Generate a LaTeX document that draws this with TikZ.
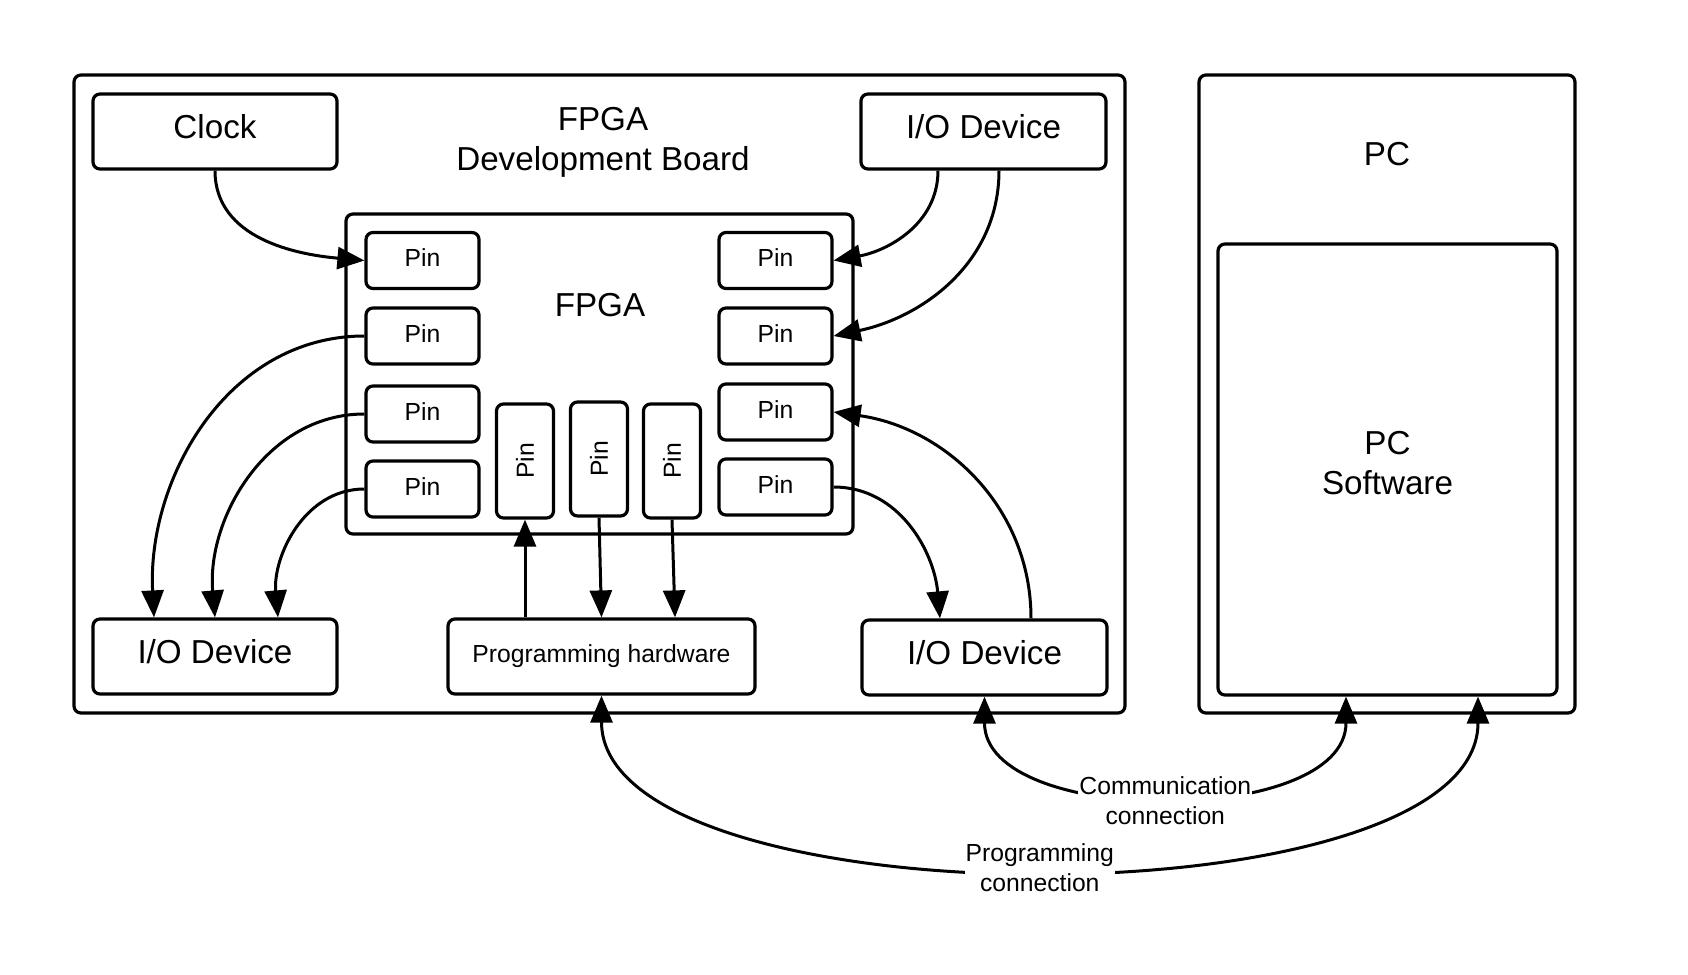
\documentclass[tikz,border=0pt]{standalone}
\usepackage{fontspec}
\setmainfont{Liberation Sans}
\usetikzlibrary{arrows.meta,calc}
\newcommand\fbig{\fontsize{16.6pt}{20pt}\selectfont}
\newcommand\fsmall{\fontsize{12.35pt}{15pt}\selectfont}
\begin{document}
\begin{tikzpicture}[x=0.5pt,y=0.5pt,
  box/.style={draw, line width=1.6pt, rounded corners=3.5pt, align=center, inner sep=0pt, font=\fbig},
  sbox/.style={box, text height=0.73em, text depth=0.04em},
  pinbox/.style={box, text height=0.73em, text depth=0.1em, font=\fsmall, minimum width=56.5pt, minimum height=28pt},
  vpin/.style={box, font=\fsmall, minimum width=28.5pt, minimum height=57pt},
  txt/.style={align=center, font=\fbig, inner sep=0pt},
  lbl/.style={align=center, font=\fsmall, fill=white, inner sep=0.5pt},
  conn/.style={line width=1.5pt, -{Triangle[length=13.5pt,width=11pt]}},
  bconn/.style={line width=1.5pt, {Triangle[length=13.5pt,width=11pt]}-{Triangle[length=13.5pt,width=11pt]}}
]
\useasboundingbox (0,0) rectangle (1688,-975);
% board
\node[box, minimum width=525.5pt, minimum height=319pt] (board) at (599.5,-394) {};
\node[txt] (title) at (603,-142) {FPGA\\Development Board};
\node[sbox, minimum width=122pt, minimum height=37.5pt] (clock) at (215,-131.5) {Clock};
\node[sbox, minimum width=122.5pt, minimum height=37.5pt] (io1) at (983.5,-131.5) {I/O Device};
% FPGA
\node[box, minimum width=253.5pt, minimum height=160pt] (fpga) at (599.5,-374) {};
\node[txt] (fpgatext) at (600,-305) {FPGA};
\node[pinbox] (pl1) at (422.5,-260.5) {Pin};
\node[pinbox] (pl2) at (422.5,-336) {Pin};
\node[pinbox] (pl3) at (422.5,-414) {Pin};
\node[pinbox] (pl4) at (422.5,-489) {Pin};
\node[pinbox] (pr1) at (775.5,-260.5) {Pin};
\node[pinbox] (pr2) at (775.5,-336) {Pin};
\node[pinbox] (pr3) at (775.5,-412) {Pin};
\node[pinbox] (pr4) at (775.5,-487) {Pin};
\node[vpin] (pv1) at (525,-461) {\rotatebox{90}{Pin}};
\node[vpin] (pv2) at (599,-459) {\rotatebox{90}{Pin}};
\node[vpin] (pv3) at (672,-461) {\rotatebox{90}{Pin}};
% bottom boxes
\node[sbox, minimum width=122pt, minimum height=37.5pt] (iob1) at (215,-656.5) {I/O Device};
\node[box, font=\fsmall, minimum width=153.5pt, minimum height=37.5pt] (ph) at (601.5,-656.5) {Programming hardware};
\node[sbox, minimum width=122.5pt, minimum height=37.5pt] (iob2) at (984.5,-657.5) {I/O Device};
% PC
\node[box, minimum width=188pt, minimum height=319pt] (pc) at (1387,-394) {};
\node[txt] (pctext) at (1387,-154) {PC};
\node[box, minimum width=169.5pt, minimum height=225.5pt] (pcs) at (1387.5,-469.5) {};
\node[txt] (pcstext) at (1387.5,-463) {PC\\Software};
% connectors
\draw[conn] (clock.south) to[out=-90,in=175] (pl1.west);
\draw[conn] ([xshift=-22.75pt]io1.south) to[out=-90,in=10] (pr1.east);
\draw[conn] ([xshift=7.75pt]io1.south) to[out=-90,in=12] (pr2.east);
\draw[conn] (pl2.west) to[out=180,in=93] ([xshift=-30.5pt]iob1.north);
\draw[conn] (pl3.west) to[out=180,in=95] (iob1.north);
\draw[conn] (pl4.west) to[out=180,in=95] ([xshift=31.5pt]iob1.north);
\draw[conn] (ph.north -| pv1.south) -- (pv1.south);
\draw[conn] (pv2.south) -- (ph.north);
\draw[conn] (pv3.south) -- ([xshift=36.75pt]ph.north);
\draw[conn] (pr4.east) to[out=0,in=95] ([xshift=-22.25pt]iob2.north);
\draw[conn] ([xshift=23.25pt]iob2.north) to[out=90,in=-8] (pr3.east);
\draw[bconn] (ph.south) .. controls +(0,-229) and +(0,-229) .. ([xshift=45.25pt]pcs.south)
  node[lbl, pos=0.5] {Programming\\connection};
\draw[bconn] (iob2.south) .. controls +(0,-131) and +(0,-131) .. ([xshift=-20.75pt]pcs.south)
  node[lbl, pos=0.5, yshift=-3pt] {Communication\\connection};
\end{tikzpicture}
\end{document}
